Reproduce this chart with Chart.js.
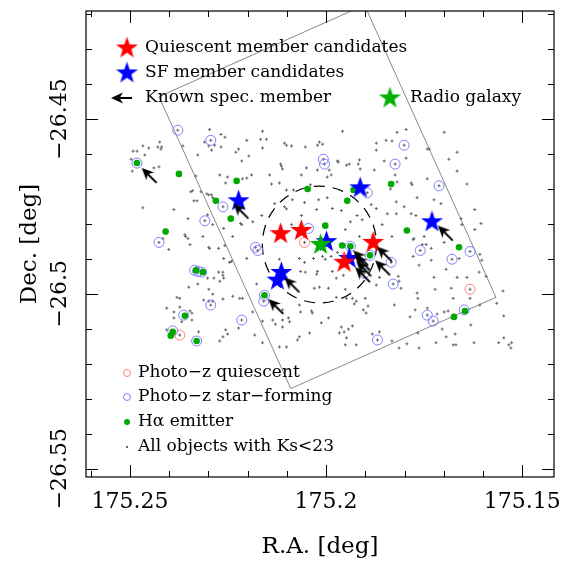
<!DOCTYPE html>
<html lang="en">
<head>
<meta charset="UTF-8" />
<title>Cluster field - RA/Dec map</title>
<script src="https://cdn.jsdelivr.net/npm/chart.js"></script>
<style>
  html, body { margin: 0; padding: 0; background: #fff; }
  canvas { display: block; }
</style>
</head>
<body>
<canvas id="fieldChart" width="574" height="564"></canvas>
<script>
// axis limits and labelled ticks (deg)
const raRange = [175.1419, 175.2612];
const decRange = [-26.5524, -26.4191];
const raTicks = [175.25, 175.2, 175.15];
const decTicks = [-26.45, -26.5, -26.55];

// all positions are [RA, Dec] in deg
const allObjects = [
  [175.2297,-26.4530],[175.2268,-26.4544],[175.2258,-26.4552],[175.2310,-26.4566],[175.2299,-26.4577],
  [175.2284,-26.4575],[175.2268,-26.4580],[175.2292,-26.4589],[175.2424,-26.4566],[175.2429,-26.4580],
  [175.2419,-26.4580],[175.2421,-26.4586],[175.2467,-26.4577],[175.2452,-26.4583],[175.2492,-26.4592],
  [175.2482,-26.4592],[175.2462,-26.4603],[175.2497,-26.4615],[175.2365,-26.4577],[175.2327,-26.4603],
  [175.2223,-26.4586],[175.2230,-26.4595],[175.2215,-26.4620],[175.2271,-26.4660],[175.2251,-26.4666],
  [175.2256,-26.4683],[175.2332,-26.4663],[175.2439,-26.4640],[175.2426,-26.4637],[175.2494,-26.4649],
  [175.2345,-26.4708],[175.2340,-26.4705],[175.2319,-26.4708],[175.2304,-26.4714],[175.2299,-26.4717],
  [175.2292,-26.4717],[175.2289,-26.4725],[175.2337,-26.4734],[175.2329,-26.4734],[175.2388,-26.4759],
  [175.2467,-26.4754],[175.2352,-26.4785],[175.2302,-26.4774],[175.2289,-26.4802],[175.2360,-26.4831],
  [175.2314,-26.4836],[175.2261,-26.4813],[175.2238,-26.4836],[175.2218,-26.4799],[175.2162,-26.4535],
  [175.2202,-26.4561],[175.2167,-26.4558],[175.2152,-26.4558],[175.2106,-26.4569],[175.2101,-26.4575],
  [175.2088,-26.4577],[175.2053,-26.4580],[175.2022,-26.4575],[175.2017,-26.4566],[175.2009,-26.4572],
  [175.1958,-26.4535],[175.1872,-26.4569],[175.1847,-26.4561],[175.1832,-26.4563],[175.1819,-26.4538],
  [175.1872,-26.4589],[175.2162,-26.4583],[175.2197,-26.4606],[175.2116,-26.4629],[175.2114,-26.4635],
  [175.2111,-26.4643],[175.2050,-26.4640],[175.2022,-26.4646],[175.1992,-26.4646],[175.1987,-26.4660],
  [175.1997,-26.4666],[175.1971,-26.4620],[175.1969,-26.4623],[175.1948,-26.4632],[175.1941,-26.4629],
  [175.1918,-26.4629],[175.1915,-26.4617],[175.1913,-26.4643],[175.1877,-26.4646],[175.1852,-26.4620],
  [175.1824,-26.4660],[175.2063,-26.4660],[175.2144,-26.4660],[175.2119,-26.4683],[175.2139,-26.4686],
  [175.2101,-26.4703],[175.2083,-26.4703],[175.2040,-26.4688],[175.2213,-26.4671],[175.2202,-26.4669],
  [175.2190,-26.4660],[175.2131,-26.4742],[175.2106,-26.4751],[175.2101,-26.4757],[175.2086,-26.4731],
  [175.2055,-26.4739],[175.2019,-26.4731],[175.1997,-26.4725],[175.2024,-26.4759],[175.1984,-26.4756],
  [175.1961,-26.4762],[175.1885,-26.4745],[175.1872,-26.4756],[175.1836,-26.4700],[175.1821,-26.4737],
  [175.1821,-26.4771],[175.1844,-26.4771],[175.1857,-26.4802],[175.1832,-26.4836],[175.1921,-26.4776],
  [175.1908,-26.4788],[175.1938,-26.4794],[175.1951,-26.4816],[175.1915,-26.4836],[175.2088,-26.4802],
  [175.2164,-26.4776],[175.2187,-26.4794],[175.2215,-26.4802],[175.2063,-26.4776],
  [175.1796,-26.4530],[175.1699,-26.4538],[175.1742,-26.4586],[175.1737,-26.4586],[175.1796,-26.4612],
  [175.1687,-26.4615],[175.1666,-26.4595],[175.1666,-26.4649],[175.1819,-26.4680],[175.1783,-26.4683],
  [175.1781,-26.4688],[175.1742,-26.4671],[175.1641,-26.4686],[175.1725,-26.4731],[175.1707,-26.4742],
  [175.1768,-26.4725],[175.1801,-26.4751],[175.1783,-26.4771],[175.1771,-26.4776],[175.1621,-26.4759],
  [175.1656,-26.4785],[175.1654,-26.4802],[175.1605,-26.4799],[175.1621,-26.4816],[175.1776,-26.4842],
  [175.1750,-26.4836],
  [175.2416,-26.4842],[175.2401,-26.4873],[175.2358,-26.4836],[175.2352,-26.4842],[175.2347,-26.4859],
  [175.2299,-26.4867],[175.2297,-26.4870],[175.2274,-26.4870],[175.2258,-26.4862],[175.2261,-26.4899],
  [175.2241,-26.4907],[175.2246,-26.4910],[175.2263,-26.4938],[175.2274,-26.4938],[175.2263,-26.4947],
  [175.2261,-26.4955],[175.2271,-26.4964],[175.2286,-26.4955],[175.2302,-26.4955],[175.2327,-26.4972],
  [175.2350,-26.4981],[175.2299,-26.4987],[175.2289,-26.5001],[175.2312,-26.5018],[175.2299,-26.5021],
  [175.2289,-26.5021],[175.2263,-26.5015],[175.2238,-26.5007],[175.2220,-26.5013],[175.2380,-26.5010],
  [175.2373,-26.5013],[175.2406,-26.5041],[175.2373,-26.5038],[175.2347,-26.5049],[175.2342,-26.5055],
  [175.2388,-26.5052],[175.2388,-26.5069],[175.2368,-26.5080],[175.2342,-26.5075],[175.2406,-26.5103],
  [175.2325,-26.5109],[175.2256,-26.5103],[175.2251,-26.5115],[175.2263,-26.5123],[175.2271,-26.5135],
  [175.2223,-26.5098],
  [175.2202,-26.4899],[175.2119,-26.4901],[175.2068,-26.4899],[175.2055,-26.4910],[175.2032,-26.4899],
  [175.2009,-26.4893],[175.2002,-26.4901],[175.1987,-26.4893],[175.1971,-26.4882],[175.2065,-26.4936],
  [175.2053,-26.4938],[175.2022,-26.4936],[175.2024,-26.4944],[175.1984,-26.4936],[175.1956,-26.4947],
  [175.1974,-26.4955],[175.2177,-26.4972],[175.2017,-26.4981],[175.2030,-26.4984],[175.1994,-26.4984],
  [175.1951,-26.4987],[175.1974,-26.5010],[175.1948,-26.5013],[175.1933,-26.5013],[175.1923,-26.5021],
  [175.1900,-26.5013],[175.1893,-26.5035],[175.1905,-26.5046],[175.1928,-26.5029],[175.1872,-26.4975],
  [175.1864,-26.4953],[175.1826,-26.5032],[175.2213,-26.5013],[175.2187,-26.5052],[175.2162,-26.5078],
  [175.2136,-26.5075],[175.2111,-26.5075],[175.2129,-26.5087],[175.2111,-26.5095],[175.2093,-26.5080],
  [175.2096,-26.5069],[175.2111,-26.5046],[175.2065,-26.5052],[175.2037,-26.5049],[175.2035,-26.5055],
  [175.2068,-26.5032],[175.1994,-26.5069],[175.2012,-26.5083],[175.1961,-26.5095],[175.1966,-26.5112],
  [175.1954,-26.5109],[175.1943,-26.5101],[175.1948,-26.5126],[175.1933,-26.5092],[175.1898,-26.5055],
  [175.1882,-26.5115],[175.1864,-26.5109],[175.1923,-26.5146],[175.1951,-26.5146],[175.2101,-26.5152],
  [175.2119,-26.5152],[175.2068,-26.5123],[175.2073,-26.5132],[175.2042,-26.5112],[175.2182,-26.5118],
  [175.2162,-26.5140],[175.1832,-26.5135],
  [175.1778,-26.4845],[175.1755,-26.4859],[175.1745,-26.4859],[175.1732,-26.4870],[175.1699,-26.4853],
  [175.1778,-26.4893],[175.1763,-26.4918],[175.1732,-26.4904],[175.1694,-26.4930],[175.1661,-26.4899],
  [175.1608,-26.4887],[175.1603,-26.4904],[175.1610,-26.4938],[175.1592,-26.4950],[175.1816,-26.4950],
  [175.1814,-26.4964],[175.1809,-26.4984],[175.1725,-26.4953],[175.1666,-26.4953],[175.1641,-26.4953],
  [175.1722,-26.4987],[175.1681,-26.4984],[175.1676,-26.5013],[175.1633,-26.5013],[175.1768,-26.4998],
  [175.1766,-26.5013],[175.1773,-26.5046],[175.1742,-26.5041],[175.1786,-26.5066],[175.1717,-26.5058],
  [175.1699,-26.5052],[175.1689,-26.5049],[175.1608,-26.5032],[175.1631,-26.5089],[175.1565,-26.5027],
  [175.1549,-26.4992],[175.1547,-26.5063],[175.1704,-26.5101],[175.1766,-26.5112],[175.1694,-26.5123],
  [175.1671,-26.5115],[175.1720,-26.5140],[175.1676,-26.5146],[175.1669,-26.5146],[175.1623,-26.5140],
  [175.1547,-26.5126],[175.1560,-26.5140],[175.1534,-26.5146],[175.1527,-26.5140],[175.1529,-26.5155],
  [175.1794,-26.5143],[175.1814,-26.5155],[175.1763,-26.5155]
];

const photoZStarForming = [
  [175.2378,-26.4532],[175.2294,-26.4561],[175.2482,-26.4626],[175.2007,-26.4615],[175.2004,-26.4629],
  [175.1801,-26.4575],[175.1824,-26.4629],[175.1712,-26.4691],[175.1895,-26.4711],[175.2263,-26.4751],
  [175.2309,-26.4791],[175.2426,-26.4853],[175.2180,-26.4867],[175.2174,-26.4876],[175.2045,-26.4813],
  [175.1938,-26.4864],[175.1888,-26.4890],[175.1834,-26.4910],[175.1903,-26.4941],[175.1829,-26.4972],
  [175.1760,-26.4876],[175.1679,-26.4901],[175.1633,-26.4879],[175.2335,-26.4933],[175.2327,-26.4936],
  [175.2317,-26.4938],[175.2157,-26.5004],[175.2159,-26.5021],[175.2294,-26.5032],[175.2363,-26.5061],
  [175.2215,-26.5075],[175.2391,-26.5106],[175.2330,-26.5135],[175.1742,-26.5061],[175.1727,-26.5078],
  [175.1648,-26.5046],[175.1869,-26.5132]
];

const photoZQuiescent = [[175.2055,-26.4853],[175.1633,-26.4987],[175.2373,-26.5118]];

const haEmitters = [
  [175.2482,-26.4626],[175.2375,-26.4657],[175.2228,-26.4677],[175.2047,-26.4700],[175.1930,-26.4703],
  [175.1834,-26.4686],[175.2281,-26.4734],[175.1946,-26.4734],[175.2243,-26.4785],[175.2409,-26.4822],
  [175.2002,-26.4805],[175.1794,-26.4819],[175.1959,-26.4862],[175.1938,-26.4864],[175.1888,-26.4890],
  [175.1661,-26.4867],[175.2332,-26.4933],[175.2314,-26.4938],[175.2157,-26.5004],[175.2360,-26.5063],
  [175.2391,-26.5109],[175.2396,-26.5120],[175.2330,-26.5135],[175.1674,-26.5066],[175.1646,-26.5049]
];

const quiescentMembers = [[175.2116,-26.4825],[175.2063,-26.4816],[175.1880,-26.4850],[175.1954,-26.4907]];
const sfMembers = [
  [175.2223,-26.4731],[175.1913,-26.4694],[175.1730,-26.4791],[175.2114,-26.4936],
  [175.2124,-26.4958],[175.1999,-26.4848],[175.1941,-26.4896]
];
const radioGalaxy = [[175.2014,-26.4856]];

// arrow tips of the known spectroscopic members
const specMembers = [
  [175.2470,-26.4640],[175.2236,-26.4742],[175.2106,-26.4953],[175.2147,-26.5015],
  [175.1931,-26.4876],[175.1926,-26.4890],[175.1923,-26.4907],[175.1926,-26.4924],
  [175.1870,-26.4865],[175.1875,-26.4904],[175.1715,-26.4805]
];

// instrument footprint (closed polygon) and the dashed ring
const fovCorners = [[175.2426,-26.4436],[175.1902,-26.4174],[175.1567,-26.5010],[175.2090,-26.5271],[175.2426,-26.4436]];
const ringCenter = [175.2017, -26.4859];
const ringRadius = [0.01455, 0.0167];

const serif = '"DejaVu Serif", "Liberation Serif", serif';
const toXY = (list) => list.map(([x, y]) => ({ x, y }));
const isMajor = (v) => Math.abs(Math.round(v * 100)) % 5 === 0;
const labelFor = (v, list) => {
  const hit = list.find((t) => Math.abs(t - v) < 1e-6);
  return hit === undefined ? '' : String(hit).replace('-', '\u2212');
};

function starImage(color, R) {
  const s = Math.ceil(R * 2 + 4);
  const c = document.createElement('canvas');
  c.width = s; c.height = s;
  const g = c.getContext('2d');
  g.translate(s / 2, s / 2 + R * 0.1);
  g.beginPath();
  for (let i = 0; i < 10; i++) {
    const r = i % 2 ? R * 0.4 : R;
    const a = -Math.PI / 2 + i * Math.PI / 5;
    g.lineTo(r * Math.cos(a), r * Math.sin(a));
  }
  g.closePath();
  g.fillStyle = color;
  g.fill();
  return c;
}

// arrow with its tip at the origin, shaft running along +x
function drawArrow(g) {
  g.strokeStyle = '#000'; g.fillStyle = '#000'; g.lineWidth = 2;
  g.beginPath(); g.moveTo(6, 0); g.lineTo(21, 0); g.stroke();
  g.beginPath(); g.moveTo(0, 0); g.lineTo(12, -5.5); g.lineTo(8.5, 0); g.lineTo(12, 5.5); g.closePath(); g.fill();
}

function arrowImage() {
  const s = 52;
  const c = document.createElement('canvas');
  c.width = s; c.height = s;
  const g = c.getContext('2d');
  g.translate(s / 2, s / 2);
  g.rotate(Math.PI / 4);
  drawArrow(g);
  return c;
}

const redStar = starImage('#ff0000', 11.5);
const blueStar = starImage('#0000ff', 11.5);
const greenStar = starImage('#00b000', 11.5);
const arrowImg = arrowImage();

const mapDecor = {
  id: 'mapDecor',
  beforeDatasetsDraw(chart) {
    const { ctx } = chart;
    const xs = chart.scales.x, ys = chart.scales.y;
    const cx = xs.getPixelForValue(ringCenter[0]);
    const cy = ys.getPixelForValue(ringCenter[1]);
    const rx = Math.abs(xs.getPixelForValue(ringCenter[0] + ringRadius[0]) - cx);
    const ry = Math.abs(ys.getPixelForValue(ringCenter[1] + ringRadius[1]) - cy);
    ctx.save();
    ctx.strokeStyle = '#000'; ctx.lineWidth = 1.2;
    ctx.setLineDash([11, 8]);
    ctx.beginPath(); ctx.ellipse(cx, cy, rx, ry, 0, 0, 2 * Math.PI); ctx.stroke();
    ctx.restore();
  },
  afterDraw(chart) {
    const { ctx, chartArea: a } = chart;
    const xs = chart.scales.x, ys = chart.scales.y;
    ctx.save();
    ctx.strokeStyle = '#000'; ctx.lineWidth = 1.2;
    ctx.strokeRect(a.left, a.top, a.right - a.left, a.bottom - a.top);
    ctx.lineWidth = 1;
    ctx.beginPath();
    xs.ticks.forEach((t) => {
      const px = Math.round(xs.getPixelForValue(t.value)) + 0.5;
      const len = isMajor(t.value) ? 12 : 6;
      ctx.moveTo(px, a.bottom); ctx.lineTo(px, a.bottom - len);
      ctx.moveTo(px, a.top); ctx.lineTo(px, a.top + len);
    });
    ys.ticks.forEach((t) => {
      const py = Math.round(ys.getPixelForValue(t.value)) + 0.5;
      const len = isMajor(t.value) ? 12 : 6;
      ctx.moveTo(a.left, py); ctx.lineTo(a.left + len, py);
      ctx.moveTo(a.right, py); ctx.lineTo(a.right - len, py);
    });
    ctx.stroke();

    // rotated Dec tick labels
    ctx.fillStyle = '#000';
    ctx.font = '22px ' + serif;
    ctx.textAlign = 'center'; ctx.textBaseline = 'middle';
    ys.ticks.forEach((t) => {
      const lab = labelFor(t.value, decTicks);
      if (!lab) return;
      ctx.save();
      ctx.translate(60, ys.getPixelForValue(t.value));
      ctx.rotate(-Math.PI / 2);
      ctx.fillText(lab, 0, 0);
      ctx.restore();
    });

    // legends
    ctx.font = '17px ' + serif;
    ctx.textAlign = 'left';
    const star = (img, x, y) => ctx.drawImage(img, x - img.width / 2, y - img.height / 2);
    star(redStar, 127, 47);
    ctx.fillText('Quiescent member candidates', 145, 48);
    star(blueStar, 127, 72);
    ctx.fillText('SF member candidates', 145, 73);
    ctx.save(); ctx.translate(111, 98); drawArrow(ctx); ctx.restore();
    ctx.fillStyle = '#000';
    ctx.fillText('Known spec. member', 145, 98);
    star(greenStar, 390, 97);
    ctx.fillText('Radio galaxy', 410, 98);

    ctx.lineWidth = 1;
    ctx.strokeStyle = '#ff7f7f';
    ctx.beginPath(); ctx.arc(127, 373, 3.5, 0, 2 * Math.PI); ctx.stroke();
    ctx.fillText('Photo\u2212z quiescent', 138, 373);
    ctx.strokeStyle = '#7f7fff';
    ctx.beginPath(); ctx.arc(127, 397, 3.5, 0, 2 * Math.PI); ctx.stroke();
    ctx.fillText('Photo\u2212z star\u2212forming', 138, 397);
    ctx.fillStyle = '#00a800';
    ctx.beginPath(); ctx.arc(127, 422, 3, 0, 2 * Math.PI); ctx.fill();
    ctx.fillStyle = '#000';
    ctx.fillText('H\u03b1 emitter', 138, 422);
    ctx.fillStyle = '#666';
    ctx.fillRect(126, 446, 2, 2);
    ctx.fillStyle = '#000';
    ctx.fillText('All objects with Ks<23', 138, 447);
    ctx.restore();
  }
};

const greyDot = { pointStyle: 'cross', pointRadius: 1.5, borderWidth: 1, borderColor: '#666', backgroundColor: '#666' };

new Chart(document.getElementById('fieldChart'), {
  type: 'scatter',
  data: {
    datasets: [
      { label: 'Known spec. member', data: toXY(specMembers), pointStyle: arrowImg, pointRadius: 10 },
      { label: 'Radio galaxy', data: toXY(radioGalaxy), pointStyle: greenStar, pointRadius: 10 },
      { label: 'Quiescent member candidates', data: toXY(quiescentMembers), pointStyle: redStar, pointRadius: 10 },
      { label: 'SF member candidates', data: toXY(sfMembers), pointStyle: blueStar, pointRadius: 10 },
      { label: 'H\u03b1 emitter', data: toXY(haEmitters), pointStyle: 'circle', pointRadius: 3.3,
        backgroundColor: '#00a800', borderWidth: 0 },
      { label: 'Photo-z quiescent', data: toXY(photoZQuiescent), pointStyle: 'circle', pointRadius: 5,
        borderColor: '#ff7f7f', backgroundColor: 'rgba(0,0,0,0)', borderWidth: 1 },
      { label: 'Photo-z star-forming', data: toXY(photoZStarForming), pointStyle: 'circle', pointRadius: 5,
        borderColor: '#7f7fff', backgroundColor: 'rgba(0,0,0,0)', borderWidth: 1 },
      Object.assign({ label: 'photo-z centres', data: toXY(photoZStarForming.concat(photoZQuiescent)) }, greyDot),
      Object.assign({ label: 'All objects with Ks<23', data: toXY(allObjects) }, greyDot),
      { label: 'footprint', data: toXY(fovCorners), showLine: true, pointRadius: 0,
        borderColor: '#888', borderWidth: 1, fill: false }
    ]
  },
  options: {
    responsive: false,
    animation: false,
    devicePixelRatio: 1,
    events: [],
    layout: { padding: { top: 8, right: 19, left: 0, bottom: 0 } },
    plugins: { legend: { display: false }, tooltip: { enabled: false } },
    scales: {
      x: {
        type: 'linear', reverse: true, min: raRange[0], max: raRange[1],
        grid: { display: false, drawTicks: false }, border: { display: false },
        ticks: {
          stepSize: 0.01, includeBounds: false, autoSkip: false, maxRotation: 0, minRotation: 0,
          padding: 12, color: '#000', font: { family: serif, size: 22 },
          callback: (v) => labelFor(v, raTicks)
        },
        title: { display: true, text: 'R.A. [deg]', color: '#000', font: { family: serif, size: 23 },
          padding: { top: 0, bottom: 3 } },
        afterFit: (s) => { s.height = 87; }
      },
      y: {
        type: 'linear', min: decRange[0], max: decRange[1],
        grid: { display: false, drawTicks: false }, border: { display: false },
        ticks: { stepSize: 0.01, includeBounds: false, display: false },
        title: { display: true, text: 'Dec. [deg]', color: '#000', font: { family: serif, size: 23 },
          padding: { top: 16, bottom: 0 } },
        afterFit: (s) => { s.width = 86; }
      }
    }
  },
  plugins: [mapDecor]
});
</script>
</body>
</html>
